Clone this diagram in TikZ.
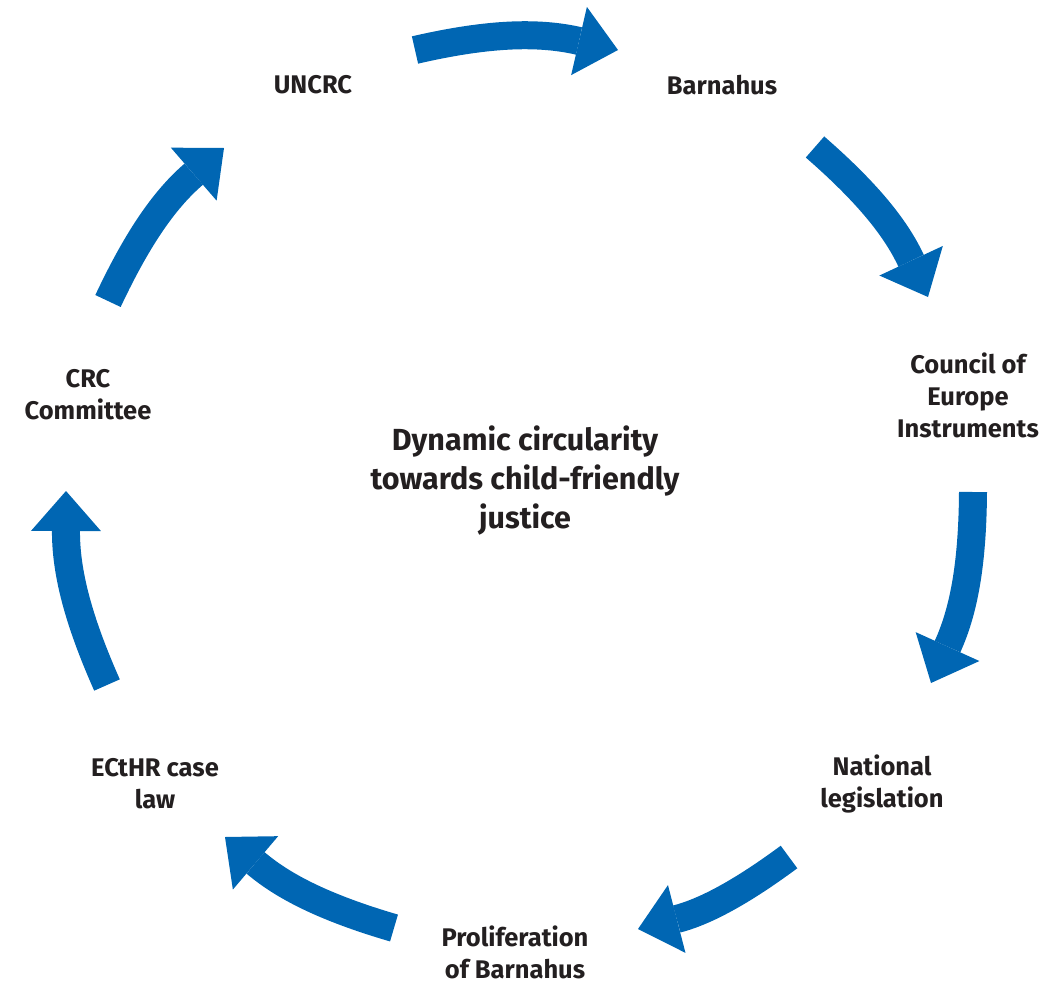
\documentclass[tikz,border=0pt]{standalone}
\usepackage{fontspec}
\setmainfont{Fira Sans}
\usepackage{tikz}
\usetikzlibrary{arrows.meta, positioning}

\definecolor{cycleblue}{HTML}{0066B3}
\definecolor{labeltext}{HTML}{231F20}

\tikzset{
  stage/.style={align=center, font=\bfseries\fontsize{25.5}{32}\selectfont, text=labeltext, inner sep=0pt},
  hub/.style={align=center, font=\bfseries\fontsize{30.5}{39}\selectfont, text=labeltext, inner sep=0pt},
  flow/.style={draw, color=cycleblue, line width=28pt, -{Triangle[length=40pt, width=70pt, line width=0pt]}},
}

\begin{document}
\begin{tikzpicture}[x=1pt, y=-1pt]
        \useasboundingbox (0,0) rectangle (1042,985);

        % stages round the circle
        \node (uncrc) [stage] at (313,85) {UNCRC};
        \node (barn) [stage] at (722,85) {Barnahus};
        \node (coe) [stage] at (968,395) {Council of\\Europe\\Instruments};
        \node (natl) [stage] at (882,784) {National\\legislation};
        \node (prolif) [stage] at (515,952) {Proliferation\\of Barnahus};
        \node (echr) [stage] at (155,784) {ECtHR case\\law};
        \node (crc) [stage] at (88,395) {CRC\\Committee};
        \node (centre) [hub] at (525,480) {Dynamic circularity\\towards child-friendly\\justice};

        % arrow ends
        \coordinate (a1) at (415,50);   \coordinate (b1) at (618,50);
        \coordinate (a2) at (815,147);  \coordinate (b2) at (928,297);
        \coordinate (a3) at (973,492);  \coordinate (b3) at (931,683);
        \coordinate (a4) at (789,857);  \coordinate (b4) at (638,929);
        \coordinate (a5) at (394,928);  \coordinate (b5) at (225,837);
        \coordinate (a6) at (107,685);  \coordinate (b6) at (66,491);
        \coordinate (a7) at (108,301);  \coordinate (b7) at (224,148);

        \path
            (a1) edge [flow, bend left=13] (b1)
            (a2) edge [flow, bend left=12] (b2)
            (a3) edge [flow, bend left=12] (b3)
            (a4) edge [flow, bend left=11] (b4)
            (a5) edge [flow, bend left=12] (b5)
            (a6) edge [flow, bend left=12] (b6)
            (a7) edge [flow, bend left=12] (b7)
            ;
\end{tikzpicture}
\end{document}
